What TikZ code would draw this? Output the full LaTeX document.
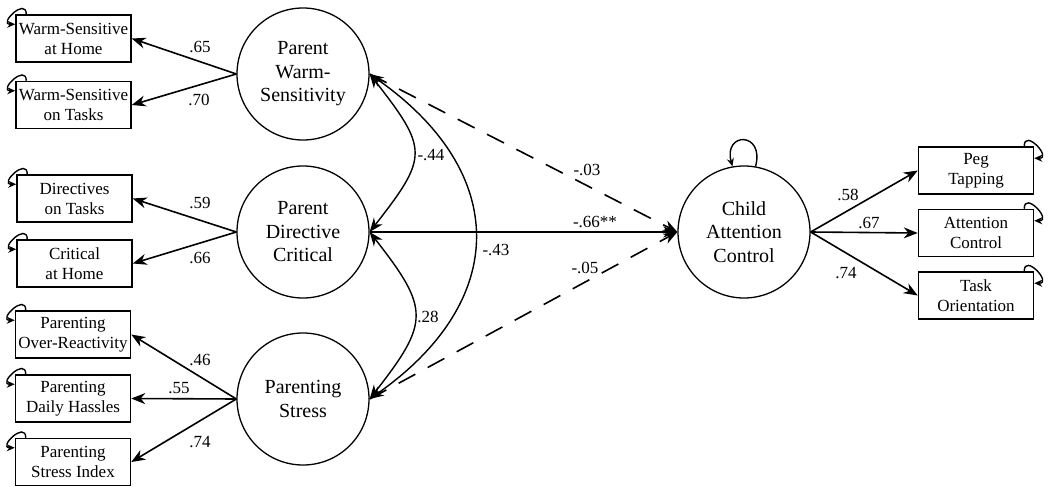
\documentclass[tikz,border=0pt]{standalone}
\usepackage{fontspec}
\setmainfont{Liberation Serif}
\usetikzlibrary{arrows.meta}
\tikzset{
ind/.style={rectangle,minimum width=115pt,minimum height=47pt,inner sep=0pt,
draw=black,line width=1.5pt,align=center,font=\fontsize{17}{20}\selectfont},
lat/.style={circle,minimum size=132pt,inner sep=0pt,
draw=black,line width=1.3pt,align=center,font=\fontsize{20}{23.5}\selectfont},
coef/.style={inner sep=0pt,font=\fontsize{17}{20}\selectfont},
load/.style={line width=1.6pt,-{Stealth[length=14pt,width=11pt]}},
cov/.style={line width=1.4pt,{Stealth[length=14pt,width=11pt]}-{Stealth[length=14pt,width=11pt]}},
reg/.style={line width=1.6pt,-{Stealth[length=14pt,width=11pt]}},
resid/.style={line width=1.4pt,-{Stealth[length=8pt,width=7pt]}}
}
\begin{document}
\begin{tikzpicture}[x=1pt,y=1pt]
\useasboundingbox (0,0) rectangle (1050,-487);

% indicators, parent side
\node[ind] (W1) at (73.5,-38.5) {Warm-Sensitive\\at Home};
\node[ind] (W2) at (73.5,-105) {Warm-Sensitive\\on Tasks};
\node[ind] (D1) at (74.5,-198.5) {Directives\\on Tasks};
\node[ind] (D2) at (74.5,-263.5) {Critical\\at Home};
\node[ind] (S1) at (73,-334.5) {Parenting\\Over-Reactivity};
\node[ind] (S2) at (73,-398.5) {Parenting\\Daily Hassles};
\node[ind] (S3) at (73,-462) {Parenting\\Stress Index};

% latent factors
\node[lat] (PW) at (303,-74) {Parent\\Warm-\\Sensitivity};
\node[lat] (PD) at (303,-232) {Parent\\Directive\\Critical};
\node[lat] (PS) at (303,-399) {Parenting\\Stress};
\node[lat] (CA) at (744,-232) {Child\\Attention\\Control};

% indicators, child side
\node[ind] (T1) at (976,-170.5) {Peg\\Tapping};
\node[ind] (T2) at (976,-233) {Attention\\Control};
\node[ind] (T3) at (976,-295.5) {Task\\Orientation};

% loadings
\draw[load] (PW.west) -- (W1.east);
\draw[load] (PW.west) -- (W2.east);
\draw[load] (PD.west) -- (D1.east);
\draw[load] (PD.west) -- (D2.east);
\draw[load] (PS.west) -- (S1.east);
\draw[load] (PS.west) -- (S2.east);
\draw[load] (PS.west) -- (S3.east);
\draw[load] (CA.east) -- (T1.west);
\draw[load] (CA.east) -- (T2.west);
\draw[load] (CA.east) -- (T3.west);

\node[coef] (lW1) at (200,-47) {.65};
\node[coef] (lW2) at (199,-100) {.70};
\node[coef] (lD1) at (200,-203) {.59};
\node[coef] (lD2) at (200,-258) {.66};
\node[coef] (lS1) at (200,-360) {.46};
\node[coef] (lS2) at (179,-388) {.55};
\node[coef] (lS3) at (200,-442) {.74};
\node[coef] (lT1) at (848,-195) {.58};
\node[coef] (lT2) at (869,-223) {.67};
\node[coef] (lT3) at (846,-273) {.74};

% covariances
\draw[cov] (PW.east) to[bend left=38,looseness=1.55] (PD.east);
\draw[cov] (PD.east) to[bend left=38,looseness=1.5] (PS.east);
\draw[cov] (PW.east) to[bend left=55,looseness=1.35] (PS.east);
\node[coef] (cWD) at (431,-155) {-.44};
\node[coef] (cDS) at (428,-317) {.28};
\node[coef] (cWS) at (496,-250) {-.43};

% paths to child
\draw[reg,dash pattern=on 19pt off 14pt] (PW.east) -- (CA.west);
\draw[reg] (PD.east) -- (CA.west);
\draw[reg,dash pattern=on 19pt off 14pt] (PS.east) -- (CA.west);
\node[coef] (bW) at (587,-170) {-.03};
\node[coef] (bD) at (595,-222) {-.66**};
\node[coef] (bS) at (585,-268) {-.05};

% residuals
\draw[resid] ([xshift=11pt]W1.north west) to[out=90,in=180,looseness=3] ([yshift=-10pt]W1.north west);
\draw[resid] ([xshift=11pt]W2.north west) to[out=90,in=180,looseness=3] ([yshift=-10pt]W2.north west);
\draw[resid] ([xshift=11pt]D1.north west) to[out=90,in=180,looseness=3] ([yshift=-10pt]D1.north west);
\draw[resid] ([xshift=11pt]D2.north west) to[out=90,in=180,looseness=3] ([yshift=-10pt]D2.north west);
\draw[resid] ([xshift=11pt]S1.north west) to[out=90,in=180,looseness=3] ([yshift=-10pt]S1.north west);
\draw[resid] ([xshift=11pt]S2.north west) to[out=90,in=180,looseness=3] ([yshift=-10pt]S2.north west);
\draw[resid] ([xshift=11pt]S3.north west) to[out=90,in=180,looseness=3] ([yshift=-10pt]S3.north west);
\draw[resid] ([xshift=-10pt]T1.north east) to[out=90,in=0,looseness=3] ([yshift=-12pt]T1.north east);
\draw[resid] ([xshift=-10pt]T2.north east) to[out=90,in=0,looseness=3] ([yshift=-12pt]T2.north east);
\draw[resid] ([xshift=-10pt]T3.north east) to[out=90,in=0,looseness=3] ([yshift=-12pt]T3.north east);
\draw[resid] (CA.80) to[out=75,in=105,looseness=4] (CA.100);

\end{tikzpicture}
\end{document}
